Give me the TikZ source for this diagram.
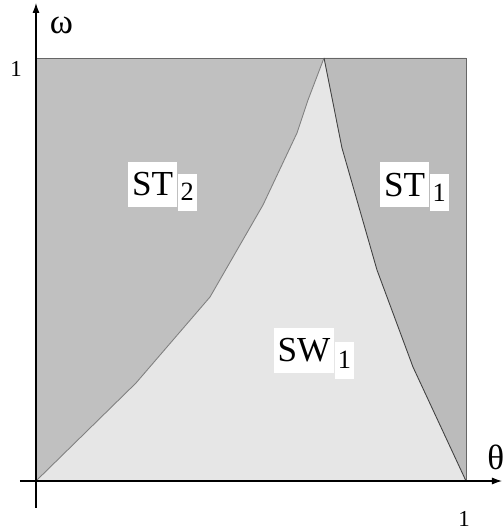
\documentclass[tikz,border=0pt]{standalone}
\usepackage{fontspec}
\setmainfont{Liberation Serif}
\usetikzlibrary{arrows.meta,positioning}
\definecolor{stLeft}{RGB}{192,192,192}
\definecolor{stRight}{RGB}{187,187,187}
\definecolor{swFill}{RGB}{230,230,230}
\definecolor{edgeGray}{RGB}{102,102,102}
\definecolor{curveLeft}{RGB}{128,128,128}
\definecolor{curveRight}{RGB}{64,64,64}

\begin{document}
\begin{tikzpicture}[x=8.6cm, y=8.46cm,
    region/.style={font=\rmfamily\fontsize{20}{24}\selectfont, fill=white, inner xsep=0.08cm, inner ysep=0pt, minimum height=0.9cm},
    regsub/.style={font=\rmfamily\fontsize{15}{18}\selectfont, fill=white, inner xsep=0.06cm, inner ysep=0pt, minimum height=0.74cm, anchor=north west},
    axlabel/.style={font=\rmfamily\fontsize{20}{24}\selectfont, inner sep=0pt},
    tick/.style={font=\rmfamily\fontsize{13}{15}\selectfont, inner sep=0pt},
    axis/.style={line width=0.6pt, -{Latex[length=2mm,width=1.4mm]}}]
    \useasboundingbox (-0.0837,-0.1182) rectangle (1.086,1.1371);

    % Points on the two boundary curves
    \coordinate (o) at (0,0);
    \coordinate (l1) at (0.2326,0.2317);
    \coordinate (l2) at (0.4047,0.4350);
    \coordinate (l3) at (0.5279,0.6525);
    \coordinate (l4) at (0.6070,0.8227);
    \coordinate (l5) at (0.6326,0.9007);
    \coordinate (peak) at (0.6698,1);
    \coordinate (r1) at (0.7116,0.7872);
    \coordinate (r2) at (0.7930,0.4988);
    \coordinate (r3) at (0.8767,0.2695);
    \coordinate (corner) at (1,0);
    \coordinate (topleft) at (0,1);
    \coordinate (topright) at (1,1);

    % Regions
    \fill[stLeft] (o) rectangle (topright);
    \fill[stRight] (peak) -- (r1) -- (r2) -- (r3) -- (corner) -- (topright) -- cycle;
    \fill[swFill] (o) -- (l1) -- (l2) -- (l3) -- (l4) -- (l5) -- (peak)
        -- (r1) -- (r2) -- (r3) -- (corner) -- cycle;

    % Outline and boundaries
    \draw[curveLeft, line width=0.5pt] (o) -- (topleft);
    \draw[edgeGray, line width=0.5pt] (topleft) -- (topright) -- (corner);
    \draw[curveLeft, line width=0.5pt] (o) -- (l1) -- (l2) -- (l3) -- (l4) -- (l5) -- (peak);
    \draw[curveRight, line width=0.5pt] (peak) -- (r1) -- (r2) -- (r3) -- (corner);

    % Axes
    \coordinate (xstart) at (-0.0372,0);
    \coordinate (xend) at (1.0837,0);
    \coordinate (ystart) at (0,-0.0638);
    \coordinate (yend) at (0,1.130);
    \draw[axis] (xstart) -- (xend);
    \draw[axis] (ystart) -- (yend);
    \node[axlabel] (omega) at (0.0593,1.0768) {ω};
    \node[axlabel, anchor=west] (theta) at (1.0488,0.0567) {θ};
    \node[tick] (yone) at (-0.0465,0.975) {1};
    \node[tick] (xone) at (0.9953,-0.0898) {1};

    % Region labels
    \node[region] (st2) at (0.271,0.702) {ST};
    \node[regsub] (st2sub) at ([yshift=-0.24cm]st2.north east) {2};
    \node[region] (st1) at (0.857,0.700) {ST};
    \node[regsub] (st1sub) at ([yshift=-0.24cm]st1.north east) {1};
    \node[region] (sw1) at (0.623,0.309) {SW};
    \node[regsub] (sw1sub) at ([yshift=-0.28cm]sw1.north east) {1};
\end{tikzpicture}
\end{document}
